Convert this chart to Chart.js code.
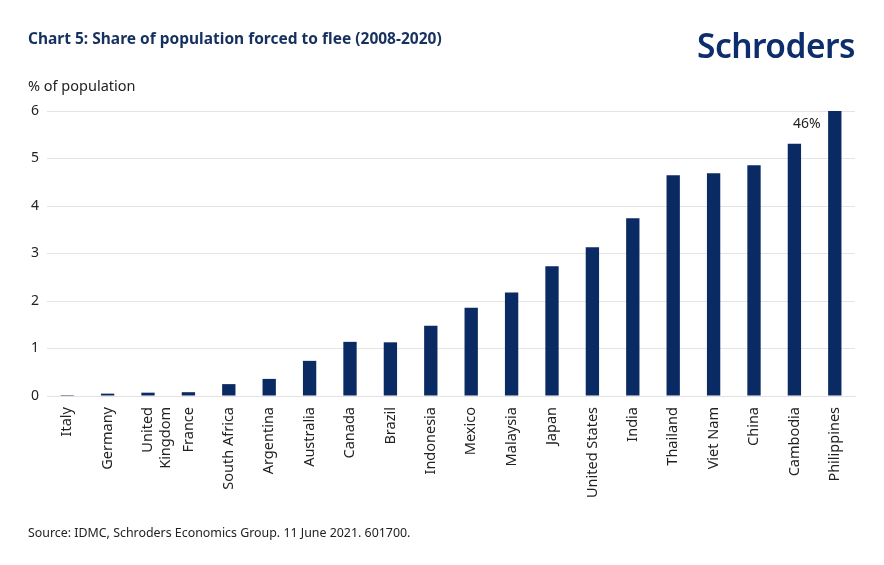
<!DOCTYPE html>
<html>
<head>
<meta charset="utf-8">
<script src="https://cdn.jsdelivr.net/npm/chart.js@4.4.1/dist/chart.umd.min.js"></script>
<style>
  html, body { margin: 0; padding: 0; background: #fff; }
  #wrap { position: relative; width: 884px; height: 565px; font-family: "Noto Sans", sans-serif; }
  #wrap canvas { position: absolute; left: 0; top: 0; }
  .txt { position: absolute; white-space: nowrap; }
  #title { left: 28px; top: 27px; font-size: 15.5px; font-weight: bold; color: #16305f; }
  #logo { left: 697px; top: 22px; font-size: 34px; font-weight: 600; color: #0d2d6c; transform-origin: left top; letter-spacing: -0.5px; }
  #unit { left: 28px; top: 75px; font-size: 14.5px; color: #222; }
  #source { left: 28px; top: 524px; font-size: 12.4px; color: #222; }
</style>
</head>
<body>
<div id="wrap">
  <canvas id="barChart" width="884" height="565"></canvas>
  <div class="txt" id="title">Chart 5: Share of population forced to flee (2008-2020)</div>
  <div class="txt" id="logo">Schroders</div>
  <div class="txt" id="unit">% of population</div>
  <div class="txt" id="source">Source: IDMC, Schroders Economics Group. 11 June 2021. 601700.</div>
</div>
<script>
// categories and values (% of population), Philippines is off the scale at 46
var countries = ['Italy', 'Germany', ['United', 'Kingdom'], 'France', 'South Africa', 'Argentina',
    'Australia', 'Canada', 'Brazil', 'Indonesia', 'Mexico', 'Malaysia', 'Japan', 'United States',
    'India', 'Thailand', 'Viet Nam', 'China', 'Cambodia', 'Philippines'];
var shares = [0.02, 0.05, 0.07, 0.08, 0.25, 0.36, 0.74, 1.14, 1.13, 1.48, 1.86, 2.18, 2.73, 3.13,
    3.74, 4.65, 4.69, 4.86, 5.31, 46];
var yTicks = [0, 1, 2, 3, 4, 5, 6];
var offScaleLabel = '46%';

// fit the logo text to its width
var logo = document.getElementById('logo');
var lw = logo.getBoundingClientRect().width;
logo.style.transform = 'scaleX(' + (158 / lw) + ')';

var navy = '#0a2a63';

var offScalePlugin = {
    id: 'offScale',
    afterDatasetsDraw: function (chart) {
        var ctx = chart.ctx;
        var meta = chart.getDatasetMeta(0);
        var last = meta.data[meta.data.length - 1];
        var y = chart.scales.y.getPixelForValue(5.73);
        ctx.save();
        ctx.font = '14px "Noto Sans"';
        ctx.fillStyle = '#222';
        ctx.textAlign = 'center';
        ctx.textBaseline = 'middle';
        ctx.fillText(offScaleLabel, last.x - 28, y);
        ctx.restore();
    }
};

var ctx = document.getElementById('barChart').getContext('2d');
new Chart(ctx, {
    type: 'bar',
    data: {
        labels: countries,
        datasets: [{
            data: shares,
            backgroundColor: navy,
            borderWidth: 0,
            categoryPercentage: 1,
            barPercentage: 0.33,
            clip: 0
        }]
    },
    options: {
        responsive: false,
        animation: false,
        layout: { padding: { top: 111, left: 0, right: 29, bottom: 39 } },
        plugins: { legend: { display: false }, tooltip: { enabled: false } },
        scales: {
            x: {
                grid: { display: false },
                border: { display: true, color: '#e2e2e2' },
                ticks: {
                    minRotation: 90, maxRotation: 90, autoSkip: false, padding: 3,
                    color: '#222', font: { family: 'Noto Sans', size: 14.5, lineHeight: 1.25 }
                },
                afterFit: function (s) { s.height = 130; }
            },
            y: {
                min: 0, max: 6,
                afterBuildTicks: function (s) { s.ticks = yTicks.map(function (v) { return { value: v }; }); },
                grid: { color: '#e4e4e4', drawTicks: false },
                border: { display: false },
                ticks: { padding: 8, color: '#222', font: { family: 'Noto Sans', size: 14 } },
                afterFit: function (s) { s.width = 47; }
            }
        }
    },
    plugins: [offScalePlugin]
});
</script>
</body>
</html>
